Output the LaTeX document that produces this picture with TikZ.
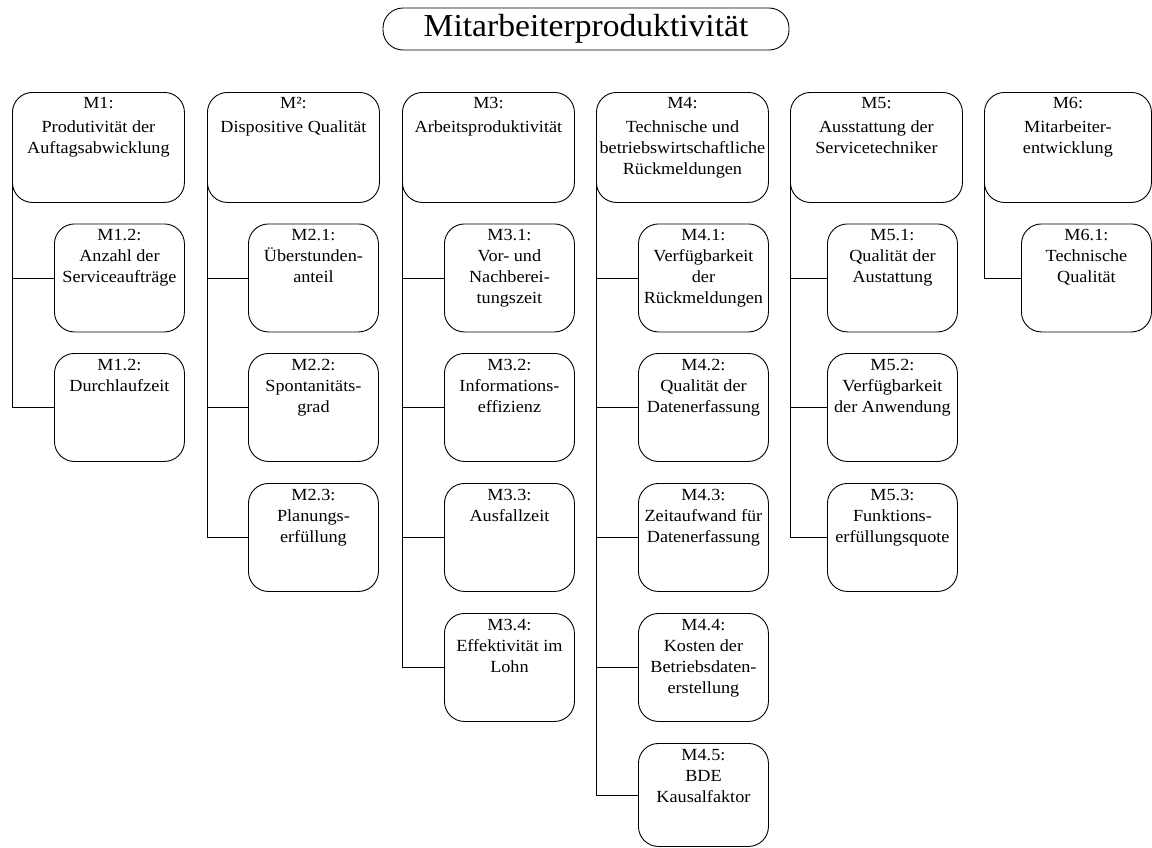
\documentclass[tikz,border=0pt]{standalone}
\usepackage{fontspec}
\setmainfont{Liberation Serif}[FakeStretch=1.07]
\newfontfamily\titlefont{Liberation Serif}[FakeStretch=1.05]

% text of a main criterion box (top aligned) and of a sub-criterion box
\newcommand\ptext[2][172pt]{\parbox[c][110pt][t]{#1}{\centering\fontsize{17}{21}\selectfont\rule{0pt}{16pt}#2\par}}
\newcommand\ctext[2][108pt]{\parbox[c][#1][t]{130pt}{\centering\fontsize{17}{21}\selectfont\rule{0pt}{17pt}#2\par}}

\begin{document}
\begin{tikzpicture}[x=1pt,y=-1pt,line width=0.9pt,
  box/.style={draw,rounded corners=20pt,inner sep=0pt,anchor=north west},
  titlebox/.style={draw,rounded corners=20pt,minimum width=406pt,minimum height=42pt,inner sep=0pt}]
\useasboundingbox (0,0) rectangle (1152,847);

\node[titlebox] (top) at (586,29) {\titlefont\fontsize{32}{38}\selectfont Mitarbeiterproduktivität};

% main criteria
\node[box] (m1) at (12,92)  {\ptext{M1:\\[3pt]Produtivität der\\Auftagsabwicklung}};
\node[box] (m2) at (207,92) {\ptext{M²:\\[3pt]Dispositive Qualität}};
\node[box] (m3) at (402,92) {\ptext{M3:\\[3pt]Arbeitsproduktivität}};
\node[box] (m4) at (596,92) {\ptext{M4:\\[3pt]Technische und\\betriebswirtschaftliche\\Rückmeldungen}};
\node[box] (m5) at (790,92) {\ptext{M5:\\[3pt]Ausstattung der\\Servicetechniker}};
\node[box] (m6) at (984,92) {\ptext[167pt]{M6:\\[3pt]Mitarbeiter-\\entwicklung}};

% sub-criteria
\node[box] (m1a) at (54,223.5) {\ctext{M1.2:\\Anzahl der\\Serviceaufträge}};
\node[box] (m1b) at (54,353)   {\ctext{M1.2:\\Durchlaufzeit}};

\node[box] (m2a) at (248,223.5) {\ctext{M2.1:\\Überstunden-\\anteil}};
\node[box] (m2b) at (248,353)   {\ctext{M2.2:\\Spontanitäts-\\grad}};
\node[box] (m2c) at (248,483)   {\ctext{M2.3:\\Planungs-\\erfüllung}};

\node[box] (m3a) at (444,223.5) {\ctext{M3.1:\\Vor- und\\Nachberei-\\tungszeit}};
\node[box] (m3b) at (444,353)   {\ctext{M3.2:\\Informations-\\effizienz}};
\node[box] (m3c) at (444,483)   {\ctext{M3.3:\\Ausfallzeit}};
\node[box] (m3d) at (444,613)   {\ctext{M3.4:\\Effektivität im\\Lohn}};

\node[box] (m4a) at (638,223.5) {\ctext{M4.1:\\Verfügbarkeit\\der\\Rückmeldungen}};
\node[box] (m4b) at (638,353)   {\ctext{M4.2:\\Qualität der\\Datenerfassung}};
\node[box] (m4c) at (638,483)   {\ctext{M4.3:\\Zeitaufwand für\\Datenerfassung}};
\node[box] (m4d) at (638,613)   {\ctext{M4.4:\\Kosten der\\Betriebsdaten-\\erstellung}};
\node[box] (m4e) at (638,743)   {\ctext[103pt]{M4.5:\\BDE\\Kausalfaktor}};

\node[box] (m5a) at (827,223.5) {\ctext{M5.1:\\Qualität der\\Austattung}};
\node[box] (m5b) at (827,353)   {\ctext{M5.2:\\Verfügbarkeit\\der Anwendung}};
\node[box] (m5c) at (827,483)   {\ctext{M5.3:\\Funktions-\\erfüllungsquote}};

\node[box] (m6a) at (1021,223.5) {\ctext{M6.1:\\Technische\\Qualität}};

% tree connectors: down the left side of each main box, across to each sub-box
\draw (m1.west) |- (m1b.west);
\draw (m1.west |- m1a.west) -- (m1a.west);

\draw (m2.west) |- (m2c.west);
\foreach \c in {m2a,m2b} \draw (m2.west |- \c.west) -- (\c.west);

\draw (m3.west) |- (m3d.west);
\foreach \c in {m3a,m3b,m3c} \draw (m3.west |- \c.west) -- (\c.west);

\draw (m4.west) |- (m4e.west);
\foreach \c in {m4a,m4b,m4c,m4d} \draw (m4.west |- \c.west) -- (\c.west);

\draw (m5.west) |- (m5c.west);
\foreach \c in {m5a,m5b} \draw (m5.west |- \c.west) -- (\c.west);

\draw (m6.west) |- (m6a.west);
\end{tikzpicture}
\end{document}
